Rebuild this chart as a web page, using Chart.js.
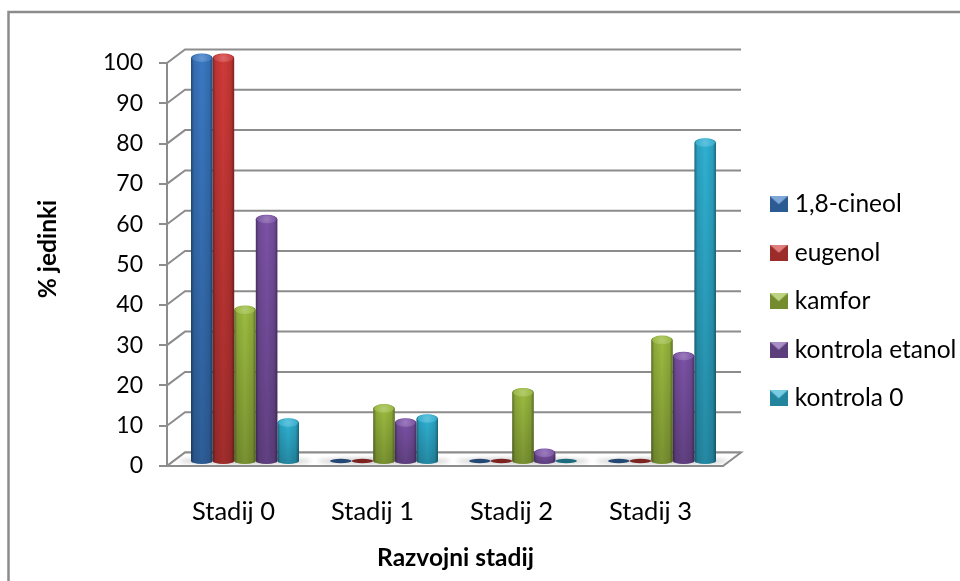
<!DOCTYPE html>
<html>
<head>
<meta charset="utf-8">
<title>Razvojni stadij</title>
<script src="https://cdn.jsdelivr.net/npm/chart.js@4/dist/chart.umd.min.js"></script>
<style>
    html, body { margin: 0; padding: 0; background: #fff; }
    #wrap { position: absolute; left: 0; top: 0; width: 960px; height: 581px; }
</style>
</head>
<body>
<div id="wrap"><canvas id="myChart" width="960" height="581"></canvas></div>
<script>
const categories = ['Stadij 0', 'Stadij 1', 'Stadij 2', 'Stadij 3'];
const seriesNames = ['1,8-cineol', 'eugenol', 'kamfor', 'kontrola etanol', 'kontrola 0'];
const cineol = [100, 0, 0, 0];
const eugenol = [100, 0, 0, 0];
const kamfor = [37.5, 13, 17, 30];
const kontrolaEtanol = [60, 9.5, 2, 26];
const kontrola0 = [9.5, 10.5, 0, 79];
const seriesColors = ['#3a78c2', '#cf3a38', '#9bbb3f', '#7b52a6', '#2fb0d2'];

const lineGray = '#8c8c8c';
const fontName = 'Lato, "Noto Sans", sans-serif';
const depthX = 18, depthY = -13.5;   // back wall offset from the front axes
const barDX = 8.5, barDY = -5;       // bars stand in the middle of the floor

function shade(hex, f) {
    const n = parseInt(hex.slice(1), 16);
    const c = [n >> 16, (n >> 8) & 255, n & 255].map(v => {
        const r = f < 0 ? v * (1 + f) : v + (255 - v) * f;
        return Math.round(r);
    });
    return `rgb(${c[0]},${c[1]},${c[2]})`;
}

// small bevelled legend marker
function legendIcon(color) {
    const c = document.createElement('canvas');
    c.width = 18; c.height = 16;
    const g = c.getContext('2d');
    g.fillStyle = shade(color, -0.25);
    g.fillRect(0, 0, 18, 16);
    g.fillStyle = shade(color, 0.35);
    g.beginPath();
    g.moveTo(0, 0); g.lineTo(18, 0); g.lineTo(9, 8); g.closePath();
    g.fill();
    return c;
}

function drawCylinder(ctx, x, top, base, w, color) {
    const left = x - w / 2, rx = w / 2;
    if (base - top < 1) {
        // zero value: only a flat disc on the floor
        ctx.fillStyle = shade(color, -0.4);
        ctx.beginPath();
        ctx.ellipse(x, base, rx, 2.2, 0, 0, Math.PI * 2);
        ctx.fill();
        return;
    }
    const g = ctx.createLinearGradient(left, 0, left + w, 0);
    g.addColorStop(0, shade(color, -0.4));
    g.addColorStop(0.14, shade(color, -0.1));
    g.addColorStop(0.5, color);
    g.addColorStop(0.85, shade(color, -0.1));
    g.addColorStop(1, shade(color, -0.4));
    ctx.fillStyle = g;
    ctx.beginPath();
    ctx.ellipse(x, base, rx, 3, 0, 0, Math.PI);
    ctx.lineTo(left, top);
    ctx.ellipse(x, top, rx, 4.5, 0, Math.PI, 0);
    ctx.closePath();
    ctx.fill();

    // darker towards the floor
    const v = ctx.createLinearGradient(0, top, 0, base + 3);
    v.addColorStop(0, 'rgba(0,0,0,0)');
    v.addColorStop(1, 'rgba(0,0,0,0.22)');
    ctx.fillStyle = v;
    ctx.fill();

    const cap = ctx.createRadialGradient(x, top, 1, x, top, rx);
    cap.addColorStop(0, shade(color, 0.22));
    cap.addColorStop(1, shade(color, -0.03));
    ctx.save();
    ctx.beginPath();
    ctx.ellipse(x, top, rx - 1, 4, 0, 0, Math.PI * 2);
    ctx.fillStyle = cap;
    ctx.fill();
    ctx.restore();
}

const walls3d = {
    id: 'walls3d',
    beforeDatasetsDraw(chart) {
        const { ctx, chartArea: a, scales: { y } } = chart;
        ctx.save();
        ctx.strokeStyle = lineGray;
        ctx.lineWidth = 2;
        y.ticks.forEach(t => {
            const py = y.getPixelForValue(t.value);
            ctx.beginPath();
            ctx.moveTo(a.left, py);
            ctx.lineTo(a.left + depthX, py + depthY);
            ctx.lineTo(a.right + depthX, py + depthY);
            ctx.stroke();
        });
        // floor slab
        const fy = y.getPixelForValue(0);
        ctx.fillStyle = '#fff';
        ctx.beginPath();
        ctx.moveTo(a.left, fy);
        ctx.lineTo(a.left + depthX, fy + depthY);
        ctx.lineTo(a.right + depthX, fy + depthY);
        ctx.lineTo(a.right, fy);
        ctx.closePath();
        ctx.fill();
        ctx.stroke();
        // soft shadow the bars throw on the floor
        ctx.save();
        ctx.beginPath();
        ctx.rect(a.left, fy + depthY + 1, a.right - a.left + depthX, -depthY - 2);
        ctx.clip();
        ctx.filter = 'blur(2px)';
        ctx.fillStyle = 'rgba(120,120,120,0.4)';
        chart.scales.x.ticks.forEach((t, i) => {
            const cx = chart.scales.x.getPixelForValue(i) + barDX;
            ctx.beginPath();
            ctx.ellipse(cx, fy + barDY, 66, 3, 0, 0, Math.PI * 2);
            ctx.fill();
        });
        ctx.restore();
        ctx.restore();
    },
    beforeDatasetDraw(chart, args) {
        const ctx = chart.ctx, y = chart.scales.y;
        ctx.save();
        ctx.translate(barDX, barDY);
        args.meta.data.forEach((bar, i) => {
            const color = seriesColors[args.index];
            drawCylinder(ctx, bar.x, bar.y, y.getPixelForValue(0), bar.width, color);
        });
        ctx.restore();
        return false;
    },
    afterLayout(chart) {
        // legend sits beside the plot, it does not take plot space
        const l = chart.legend;
        const w = l.right - l.left, h = l.bottom - l.top;
        l.left = 751; l.right = 751 + w;
        l.top = 168; l.bottom = 168 + h;
    },
    afterDraw(chart) {
        const ctx = chart.ctx;
        ctx.save();
        // outer frame
        ctx.strokeStyle = lineGray;
        ctx.lineWidth = 2.5;
        ctx.beginPath();
        ctx.moveTo(8.5, 581); ctx.lineTo(8.5, 12); ctx.lineTo(960, 12);
        ctx.stroke();
        // axis titles
        ctx.fillStyle = '#000';
        ctx.font = 'bold 24.5px ' + fontName;
        ctx.textAlign = 'center';
        ctx.textBaseline = 'middle';
        ctx.fillText('Razvojni stadij', 455.5, 558);
        ctx.translate(48, 249);
        ctx.rotate(-Math.PI / 2);
        ctx.fillText('% jedinki', 0, 0);
        ctx.restore();
    }
};

const seriesValues = [cineol, eugenol, kamfor, kontrolaEtanol, kontrola0];

new Chart(document.getElementById('myChart'), {
    type: 'bar',
    data: {
        labels: categories,
        datasets: seriesNames.map((name, i) => ({
            label: name,
            data: seriesValues[i],
            backgroundColor: seriesColors[i],
            pointStyle: legendIcon(seriesColors[i]),
            categoryPercentage: 0.777,
            barPercentage: 1
        }))
    },
    plugins: [walls3d],
    options: {
        responsive: false,
        animation: false,
        layout: { padding: { left: 0, top: 63, right: 237, bottom: 0 } },
        scales: {
            x: {
                grid: { display: false },
                border: { color: lineGray, width: 2 },
                ticks: { color: '#000', padding: 22, labelOffset: -3, maxRotation: 0, font: { family: fontName, size: 25.5 } },
                afterFit(scale) { scale.height = 115; }
            },
            y: {
                min: 0,
                max: 100,
                grid: { drawOnChartArea: false, color: lineGray, tickLength: 8, lineWidth: 2 },
                border: { color: lineGray, width: 2 },
                ticks: { stepSize: 10, color: '#000', padding: 16, font: { family: fontName, size: 23 } },
                afterFit(scale) { scale.width = 167; }
            }
        },
        plugins: {
            legend: {
                position: 'chartArea',
                align: 'start',
                labels: {
                    usePointStyle: true,
                    pointStyleWidth: 7.5,
                    padding: 24,
                    color: '#000',
                    font: { family: fontName, size: 24.5 }
                }
            },
            tooltip: { enabled: false }
        }
    }
});
</script>
</body>
</html>
